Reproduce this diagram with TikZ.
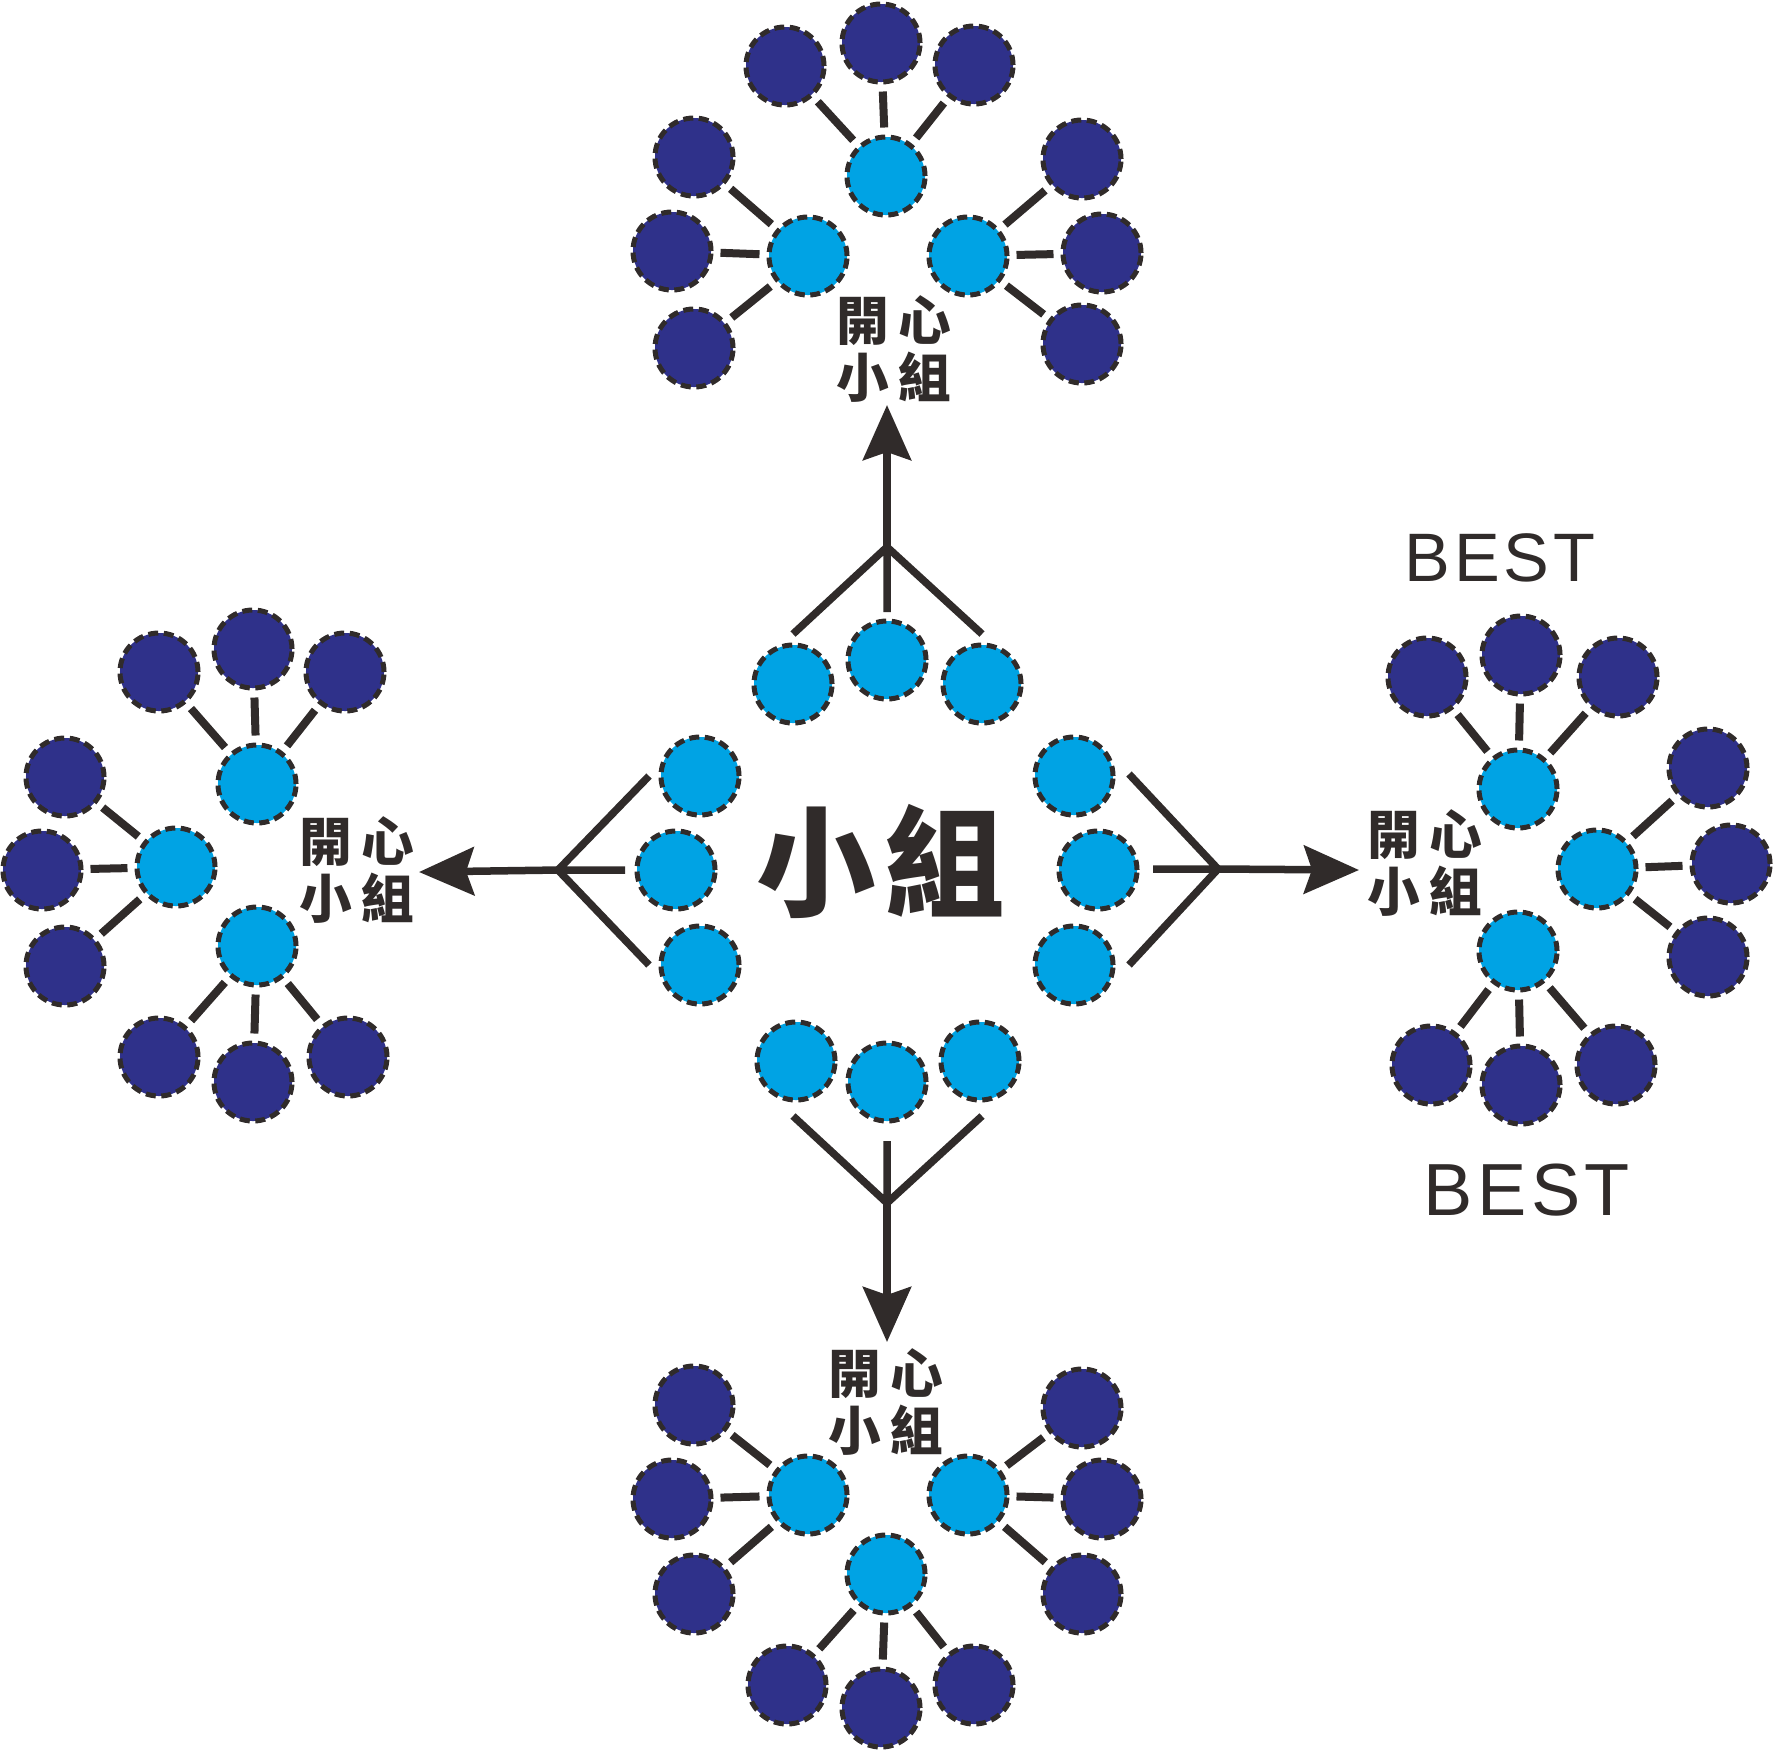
\documentclass[tikz,border=0pt]{standalone}
\usepackage{fontspec}
\newfontfamily\cjk{Noto Sans CJK TC}
\newfontfamily\bestfont{Liberation Sans}[LetterSpace=6]
\usetikzlibrary{arrows.meta}
\definecolor{ink}{HTML}{302B2A}
\definecolor{skyblue}{HTML}{00A3E4}
\definecolor{navyblue}{HTML}{2F318A}

\begin{document}
\begin{tikzpicture}[x=0.01cm,y=-0.01cm,
	hub/.style={circle,fill=skyblue,draw=ink,line width=0.05cm,dash pattern=on 0.1cm off 0.055cm,minimum size=0.78cm,inner sep=0pt},
	leaf/.style={hub,fill=navyblue},
	link/.style={draw=ink,line width=0.08cm,shorten >=0.07cm,shorten <=0.07cm},
	fork/.style={draw=ink,line width=0.075cm},
	spread/.style={fork,-{Stealth[length=0.55cm,width=0.48cm,inset=0.08cm]}},
	tag/.style={font=\cjk\bfseries\fontsize{15pt}{16pt}\selectfont,align=center,text=ink,inner sep=0pt}]
	\useasboundingbox (0,0) rectangle (1776,1753);

	\node[font=\cjk\bfseries\fontsize{34pt}{40pt}\selectfont,text=ink] (core) at (881,861) {小\hspace{0.08em}組};

	\node[hub] (n1) at (793,684) {};
	\node[hub] (n2) at (887,660) {};
	\node[hub] (n3) at (982,684) {};
	\node[hub] (w1) at (700,776) {};
	\node[hub] (w2) at (676,870) {};
	\node[hub] (w3) at (700,965) {};
	\node[hub] (e1) at (1074,776) {};
	\node[hub] (e2) at (1098,870) {};
	\node[hub] (e3) at (1074,965) {};
	\node[hub] (s1) at (796,1061) {};
	\node[hub] (s2) at (887,1082) {};
	\node[hub] (s3) at (980,1061) {};

	\coordinate (nj) at (887,547);
	\coordinate (nj1) at (793,634);
	\coordinate (nj2) at (887,612);
	\coordinate (nj3) at (982,634);
	\coordinate (ntip) at (887,405);
	\coordinate (wj) at (558,870);
	\coordinate (wj1) at (649,776);
	\coordinate (wj2) at (625,870);
	\coordinate (wj3) at (649,965);
	\coordinate (wtip) at (419,872);
	\coordinate (ej) at (1218,869);
	\coordinate (ej1) at (1129,774);
	\coordinate (ej2) at (1153,869);
	\coordinate (ej3) at (1129,965);
	\coordinate (etip) at (1359,870);
	\coordinate (sj) at (887,1203);
	\coordinate (sj1) at (793,1116);
	\coordinate (sj2) at (887,1141);
	\coordinate (sj3) at (982,1116);
	\coordinate (stip) at (887,1342);

	\draw[fork] (nj1) -- (nj) -- (nj3) (nj2) -- (nj);
	\draw[fork] (wj1) -- (wj) -- (wj3) (wj2) -- (wj);
	\draw[fork] (ej1) -- (ej) -- (ej3) (ej2) -- (ej);
	\draw[fork] (sj1) -- (sj) -- (sj3) (sj2) -- (sj);
	\draw[spread] (nj) -- (ntip);
	\draw[spread] (wj) -- (wtip);
	\draw[spread] (ej) -- (etip);
	\draw[spread] (sj) -- (stip);

	\node[hub] (tL) at (886,176) {};
	\node[hub] (tA) at (808,256) {};
	\node[hub] (tB) at (968,256) {};
	\node[leaf] (t1) at (785,66) {};
	\node[leaf] (t2) at (881,43) {};
	\node[leaf] (t3) at (974,65) {};
	\node[leaf] (t4) at (694,157) {};
	\node[leaf] (t5) at (672,251) {};
	\node[leaf] (t6) at (694,348) {};
	\node[leaf] (t7) at (1082,159) {};
	\node[leaf] (t8) at (1102,253) {};
	\node[leaf] (t9) at (1082,344) {};
	\node[tag] (tT) at (894,349) {開\hspace{0.18em}心\\小\hspace{0.18em}組};
	\path[link]
	(tL) edge (t1) edge (t2) edge (t3)
	(tA) edge (t4) edge (t5) edge (t6)
	(tB) edge (t7) edge (t8) edge (t9);

	\node[hub] (bL) at (886,1574) {};
	\node[hub] (bA) at (808,1495) {};
	\node[hub] (bB) at (968,1495) {};
	\node[leaf] (b1) at (787,1685) {};
	\node[leaf] (b2) at (881,1708) {};
	\node[leaf] (b3) at (974,1685) {};
	\node[leaf] (b4) at (694,1405) {};
	\node[leaf] (b5) at (672,1499) {};
	\node[leaf] (b6) at (694,1594) {};
	\node[leaf] (b7) at (1082,1408) {};
	\node[leaf] (b8) at (1102,1499) {};
	\node[leaf] (b9) at (1082,1594) {};
	\node[tag] (bT) at (886,1402) {開\hspace{0.18em}心\\小\hspace{0.18em}組};
	\path[link]
	(bL) edge (b1) edge (b2) edge (b3)
	(bA) edge (b4) edge (b5) edge (b6)
	(bB) edge (b7) edge (b8) edge (b9);

	\node[hub] (lA) at (257,784) {};
	\node[hub] (lL) at (176,867) {};
	\node[hub] (lB) at (257,946) {};
	\node[leaf] (l1) at (159,672) {};
	\node[leaf] (l2) at (253,649) {};
	\node[leaf] (l3) at (345,672) {};
	\node[leaf] (l4) at (65,777) {};
	\node[leaf] (l5) at (42,870) {};
	\node[leaf] (l6) at (65,966) {};
	\node[leaf] (l7) at (159,1057) {};
	\node[leaf] (l8) at (253,1082) {};
	\node[leaf] (l9) at (348,1057) {};
	\node[tag] (lT) at (357,870) {開\hspace{0.18em}心\\小\hspace{0.18em}組};
	\path[link]
	(lA) edge (l1) edge (l2) edge (l3)
	(lL) edge (l4) edge (l5) edge (l6)
	(lB) edge (l7) edge (l8) edge (l9);

	\node[hub] (rA) at (1518,789) {};
	\node[hub] (rR) at (1597,869) {};
	\node[hub] (rB) at (1518,951) {};
	\node[leaf] (r1) at (1427,677) {};
	\node[leaf] (r2) at (1521,655) {};
	\node[leaf] (r3) at (1618,677) {};
	\node[leaf] (r4) at (1708,768) {};
	\node[leaf] (r5) at (1731,864) {};
	\node[leaf] (r6) at (1708,957) {};
	\node[leaf] (r7) at (1431,1065) {};
	\node[leaf] (r8) at (1521,1085) {};
	\node[leaf] (r9) at (1616,1065) {};
	\node[tag] (rT) at (1425,863) {開\hspace{0.18em}心\\小\hspace{0.18em}組};
	\path[link]
	(rA) edge (r1) edge (r2) edge (r3)
	(rR) edge (r4) edge (r5) edge (r6)
	(rB) edge (r7) edge (r8) edge (r9);

	\node[font=\bestfont\fontsize{19.5pt}{24pt}\selectfont,text=ink] (best1) at (1500,558) {BEST};
	\node[font=\bestfont\fontsize{21pt}{24pt}\selectfont,text=ink] (best2) at (1527,1190) {BEST};
\end{tikzpicture}
\end{document}
